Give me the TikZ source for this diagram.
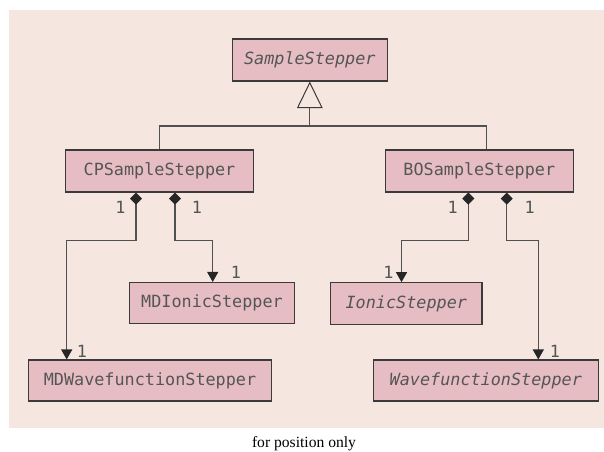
\documentclass[tikz,border=0pt]{standalone}
\usepackage{fontspec}
\setmainfont{Liberation Serif}
\newfontfamily\umlmono{DejaVu Sans Mono}
\usetikzlibrary{arrows.meta}
\definecolor{bgc}{HTML}{F5E6E0}
\definecolor{boxc}{HTML}{E6BDC2}
\definecolor{edgec}{HTML}{3A3A3A}
\definecolor{txtc}{HTML}{555555}
\definecolor{linec}{HTML}{505050}
\tikzset{
  cls/.style={draw=edgec, fill=boxc, line width=1.1pt, inner sep=0pt,
    font=\umlmono\fontsize{16.8}{20}\selectfont, text=txtc},
  mult/.style={inner sep=0pt, font=\umlmono\fontsize{16.8}{20}\selectfont, text=txtc},
  conn/.style={draw=linec, line width=1.1pt},
  comp/.style={conn, {Diamond[width=12pt,length=12pt,fill=black!85,color=black!85]}-{Triangle[width=11pt,length=10pt,fill=black!85,color=black!85]}},
  genarrow/.style={conn, -{Triangle[open,width=25.7pt,length=26.6pt,fill=bgc,color=edgec,line width=1pt]}}
}
\begin{document}
\begin{tikzpicture}[x=1pt,y=-1pt]
\useasboundingbox (0,0) rectangle (604,451);
\fill[bgc] (9,10) rectangle (604,428);

\node[cls, minimum width=155pt, minimum height=42pt] (ss) at (309.8,60) {\itshape SampleStepper};
\node[cls, minimum width=187.6pt, minimum height=42pt] (cp) at (159.5,171) {CPSampleStepper};
\node[cls, minimum width=188pt, minimum height=42pt] (bo) at (479.3,171) {BOSampleStepper};
\node[cls, minimum width=165.4pt, minimum height=41pt] (mdi) at (212,303) {MDIonicStepper};
\node[cls, minimum width=151.3pt, minimum height=41.6pt] (ion) at (406.3,303.5) {\itshape IonicStepper};
\node[cls, minimum width=243.4pt, minimum height=41pt] (mdw) at (150,380.5) {MDWavefunctionStepper};
\node[cls, minimum width=225pt, minimum height=41pt] (wav) at (485.8,380.5) {\itshape WavefunctionStepper};

\coordinate (bar) at (309.8,126);
\draw[conn] (cp.north) |- (bar) -| ([xshift=7.4pt]bo.north);
\draw[genarrow] (bar) -- (ss.south);

\draw[comp] ([xshift=-23.5pt]cp.south) -- ++(0,48) -| ([xshift=-83.3pt]mdw.north);
\draw[comp] ([xshift=15.5pt]cp.south) -- ++(0,48) -| ([xshift=0.7pt]mdi.north);
\draw[comp] ([xshift=-11pt]bo.south) -- ++(0,48) -| ([xshift=-4.8pt]ion.north);
\draw[comp] ([xshift=27.4pt]bo.south) -- ++(0,48) -| ([xshift=52.5pt]wav.north);

\node[mult] (m1) at (120.5,207) {1};
\node[mult] (m2) at (197,207) {1};
\node[mult] (m3) at (452.7,207) {1};
\node[mult] (m4) at (529.7,207) {1};
\node[mult] (m5) at (236,272) {1};
\node[mult] (m6) at (388.3,272) {1};
\node[mult] (m7) at (82,351) {1};
\node[mult] (m8) at (555,351) {1};

\node[anchor=base, inner sep=0pt, font=\fontsize{15.6}{18}\selectfont] (cap) at (304,447) {for position only};
\end{tikzpicture}
\end{document}
